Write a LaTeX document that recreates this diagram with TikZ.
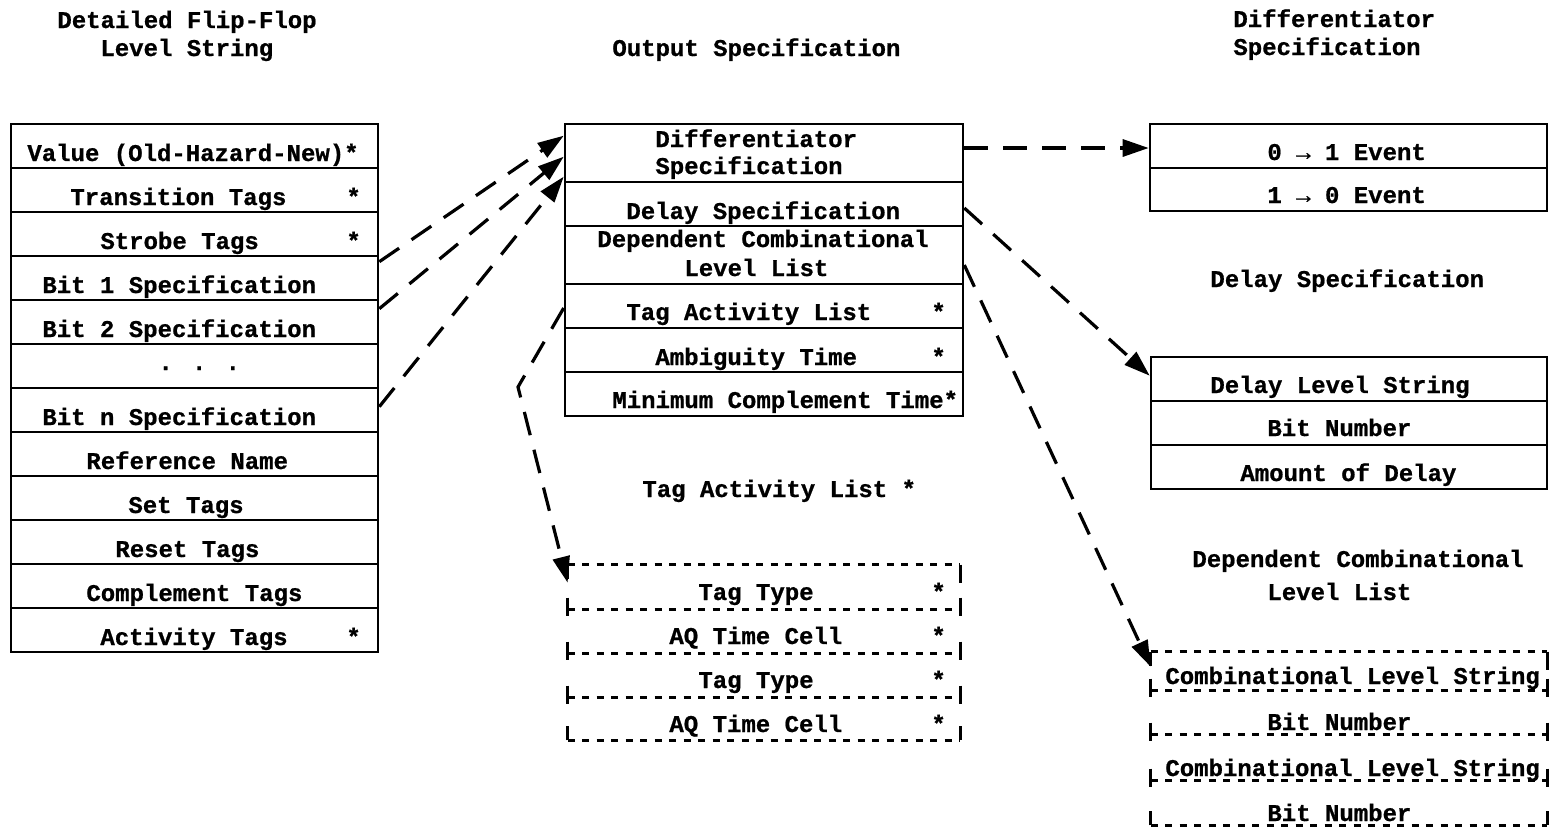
\documentclass[tikz,border=0pt]{standalone}
\usepackage{fontspec}
\setmainfont{Liberation Mono}[BoldFeatures={FakeBold=0.8}]
\usetikzlibrary{arrows.meta}

\tikzset{
  lbl/.style={anchor=base west, inner sep=0pt, font=\bfseries\fontsize{12}{14}\selectfont},
  cell/.style={draw, line width=1.3pt, inner sep=0pt},
  ghost/.style={inner sep=0pt},
  link/.style={line width=1.6pt, dash pattern=on 12pt off 7.5pt,
               -{Triangle[length=13pt,width=8.5pt]}},
  typed/.style={line width=1.4pt, dash pattern=on 3.5pt off 3.75pt},
  tick/.style={line width=1.4pt},
}

\begin{document}
\begin{tikzpicture}[x=0.5pt, y=-0.5pt]
\path[fill=white, use as bounding box] (0,0) rectangle (1554,831);

% ---------------- Detailed flip-flop level string ----------------
\node[lbl] (titleL1) at (57,28) {Detailed Flip-Flop};
\node[lbl] (titleL2) at (100,56) {Level String};

\foreach \i in {1,...,12}
  \node[cell, minimum width=183.5pt, minimum height=22pt] (L\i) at (194.5,{102+44*\i}) {};

\node[lbl] (l1)  at (27,161)  {Value (Old-Hazard-New)*};
\node[lbl] (l2)  at (70,205)  {Transition Tags};
\node[lbl] (l2s) at (346,205) {*};
\node[lbl] (l3)  at (100,249) {Strobe Tags};
\node[lbl] (l3s) at (346,249) {*};
\node[lbl] (l4)  at (42,293)  {Bit 1 Specification};
\node[lbl] (l5)  at (42,337)  {Bit 2 Specification};
\node[lbl] (l6)  at (158,370) {. . .};
\node[lbl] (l7)  at (42,425)  {Bit n Specification};
\node[lbl] (l8)  at (86,469)  {Reference Name};
\node[lbl] (l9)  at (128,513) {Set Tags};
\node[lbl] (l10) at (115,557) {Reset Tags};
\node[lbl] (l11) at (86,601)  {Complement Tags};
\node[lbl] (l12) at (100,645) {Activity Tags};
\node[lbl] (l12s) at (346,645) {*};

% ---------------- Output specification ----------------
\node[lbl] (titleM) at (612,56) {Output Specification};

\node[cell, minimum width=199pt, minimum height=29pt] (M1) at (764,153) {};
\node[cell, minimum width=199pt, minimum height=22pt] (M2) at (764,204) {};
\node[cell, minimum width=199pt, minimum height=29pt] (M3) at (764,255) {};
\node[cell, minimum width=199pt, minimum height=22pt] (M4) at (764,306) {};
\node[cell, minimum width=199pt, minimum height=22pt] (M5) at (764,350) {};
\node[cell, minimum width=199pt, minimum height=22pt] (M6) at (764,394) {};

\node[lbl] (m1a) at (655,147) {Differentiator};
\node[lbl] (m1b) at (655,174) {Specification};
\node[lbl] (m2)  at (626,219) {Delay Specification};
\node[lbl] (m3a) at (597,247) {Dependent Combinational};
\node[lbl] (m3b) at (684,276) {Level List};
\node[lbl] (m4)  at (626,320) {Tag Activity List};
\node[lbl] (m4s) at (931,320) {*};
\node[lbl] (m5)  at (655,365) {Ambiguity Time};
\node[lbl] (m5s) at (931,365) {*};
\node[lbl] (m6)  at (612,408) {Minimum Complement Time*};

% ---------------- Differentiator specification ----------------
\node[lbl] (titleD1) at (1233,27) {Differentiator};
\node[lbl] (titleD2) at (1233,55) {Specification};

\node[cell, minimum width=198.5pt, minimum height=22pt]   (D1) at (1348.5,146) {};
\node[cell, minimum width=198.5pt, minimum height=21.5pt] (D2) at (1348.5,189.5) {};
\node[lbl] (d1) at (1267,160) {0 → 1 Event};
\node[lbl] (d2) at (1267,203) {1 → 0 Event};

% ---------------- Delay specification ----------------
\node[lbl] (titleY) at (1210,287) {Delay Specification};

\node[cell, minimum width=198pt, minimum height=22pt] (Y1) at (1349,379) {};
\node[cell, minimum width=198pt, minimum height=22pt] (Y2) at (1349,423) {};
\node[cell, minimum width=198pt, minimum height=22pt] (Y3) at (1349,467) {};
\node[lbl] (y1) at (1210,393) {Delay Level String};
\node[lbl] (y2) at (1267,436) {Bit Number};
\node[lbl] (y3) at (1240,481) {Amount of Delay};

% ---------------- Tag activity list (typed dashed table) ----------------
\node[lbl] (titleT) at (642,497) {Tag Activity List *};

\node[ghost, minimum width=196pt, minimum height=22.5pt] (T1) at (764,587.5) {};
\node[ghost, minimum width=196pt, minimum height=22pt]   (T2) at (764,632) {};
\node[ghost, minimum width=196pt, minimum height=22pt]   (T3) at (764,676) {};
\node[ghost, minimum width=196pt, minimum height=21pt]   (T4) at (764,719) {};

\foreach \n in {T1,T2,T3,T4}
  \draw[typed] (\n.north west) -- (\n.north east);
\draw[typed] (T4.south west) -- (T4.south east);
\draw[tick] (T1.north west) -- ++(0,14);
\draw[tick] (T1.north east) -- ++(0,18);
\foreach \n in {T2,T3,T4} {
  \draw[tick] (\n.north west) ++(0,-12) -- ++(0,18);
  \draw[tick] (\n.north east) ++(0,-12) -- ++(0,18);
}
\draw[tick] (T4.south west) -- ++(0,-14);
\draw[tick] (T4.south east) -- ++(0,-14);

\node[lbl] (t1)  at (698,600) {Tag Type};
\node[lbl] (t1s) at (931,600) {*};
\node[lbl] (t2)  at (669,644) {AQ Time Cell};
\node[lbl] (t2s) at (931,644) {*};
\node[lbl] (t3)  at (698,688) {Tag Type};
\node[lbl] (t3s) at (931,688) {*};
\node[lbl] (t4)  at (669,732) {AQ Time Cell};
\node[lbl] (t4s) at (931,732) {*};

% ---------------- Dependent combinational level list ----------------
\node[lbl] (titleC1) at (1192,567) {Dependent Combinational};
\node[lbl] (titleC2) at (1267,600) {Level List};

\node[ghost, minimum width=198pt, minimum height=19.5pt] (C1) at (1349,671.5) {};
\node[ghost, minimum width=198pt, minimum height=22pt]   (C2) at (1349,713) {};
\node[ghost, minimum width=198pt, minimum height=23pt]   (C3) at (1349,758) {};
\node[ghost, minimum width=198pt, minimum height=22pt]   (C4) at (1349,803) {};

\foreach \n in {C1,C2,C3,C4}
  \draw[typed] (\n.north west) -- (\n.north east);
\draw[typed] (C4.south west) -- (C4.south east);
\draw[tick] (C1.north west) -- ++(0,14);
\draw[tick] (C1.north east) -- ++(0,18);
\foreach \n in {C2,C3,C4} {
  \draw[tick] (\n.north west) ++(0,-12) -- ++(0,18);
  \draw[tick] (\n.north east) ++(0,-12) -- ++(0,18);
}
\draw[tick] (C4.south west) -- ++(0,-14);
\draw[tick] (C4.south east) -- ++(0,-14);

\node[lbl] (c1) at (1165,684) {Combinational Level String};
\node[lbl] (c2) at (1267,730) {Bit Number};
\node[lbl] (c3) at (1165,776) {Combinational Level String};
\node[lbl] (c4) at (1267,821) {Bit Number};

% ---------------- Connectors ----------------
\draw[link] ([yshift=-3.5pt]L4.north east) -- ([yshift=-6.5pt]M1.north west);
\draw[link] ([yshift=-5pt]L5.north east)   -- ([yshift=-17pt]M1.north west);
\draw[link] ([yshift=-10pt]L7.north east)  -- ([yshift=-27pt]M1.north west);

\coordinate (bend) at (518,387);
\draw[link] ([yshift=-1pt]M4.west) -- (bend) -- ([yshift=-9pt]T1.north west);

\draw[link] ([yshift=2.5pt]M1.east) -- ([yshift=-1pt]D1.west);
\draw[link] ([yshift=-2pt]M2.east)  -- ([yshift=-10pt]Y1.north west);
\draw[link] ([yshift=-5pt]M3.east)  -- ([yshift=-7.5pt]C1.north west);
\end{tikzpicture}
\end{document}
